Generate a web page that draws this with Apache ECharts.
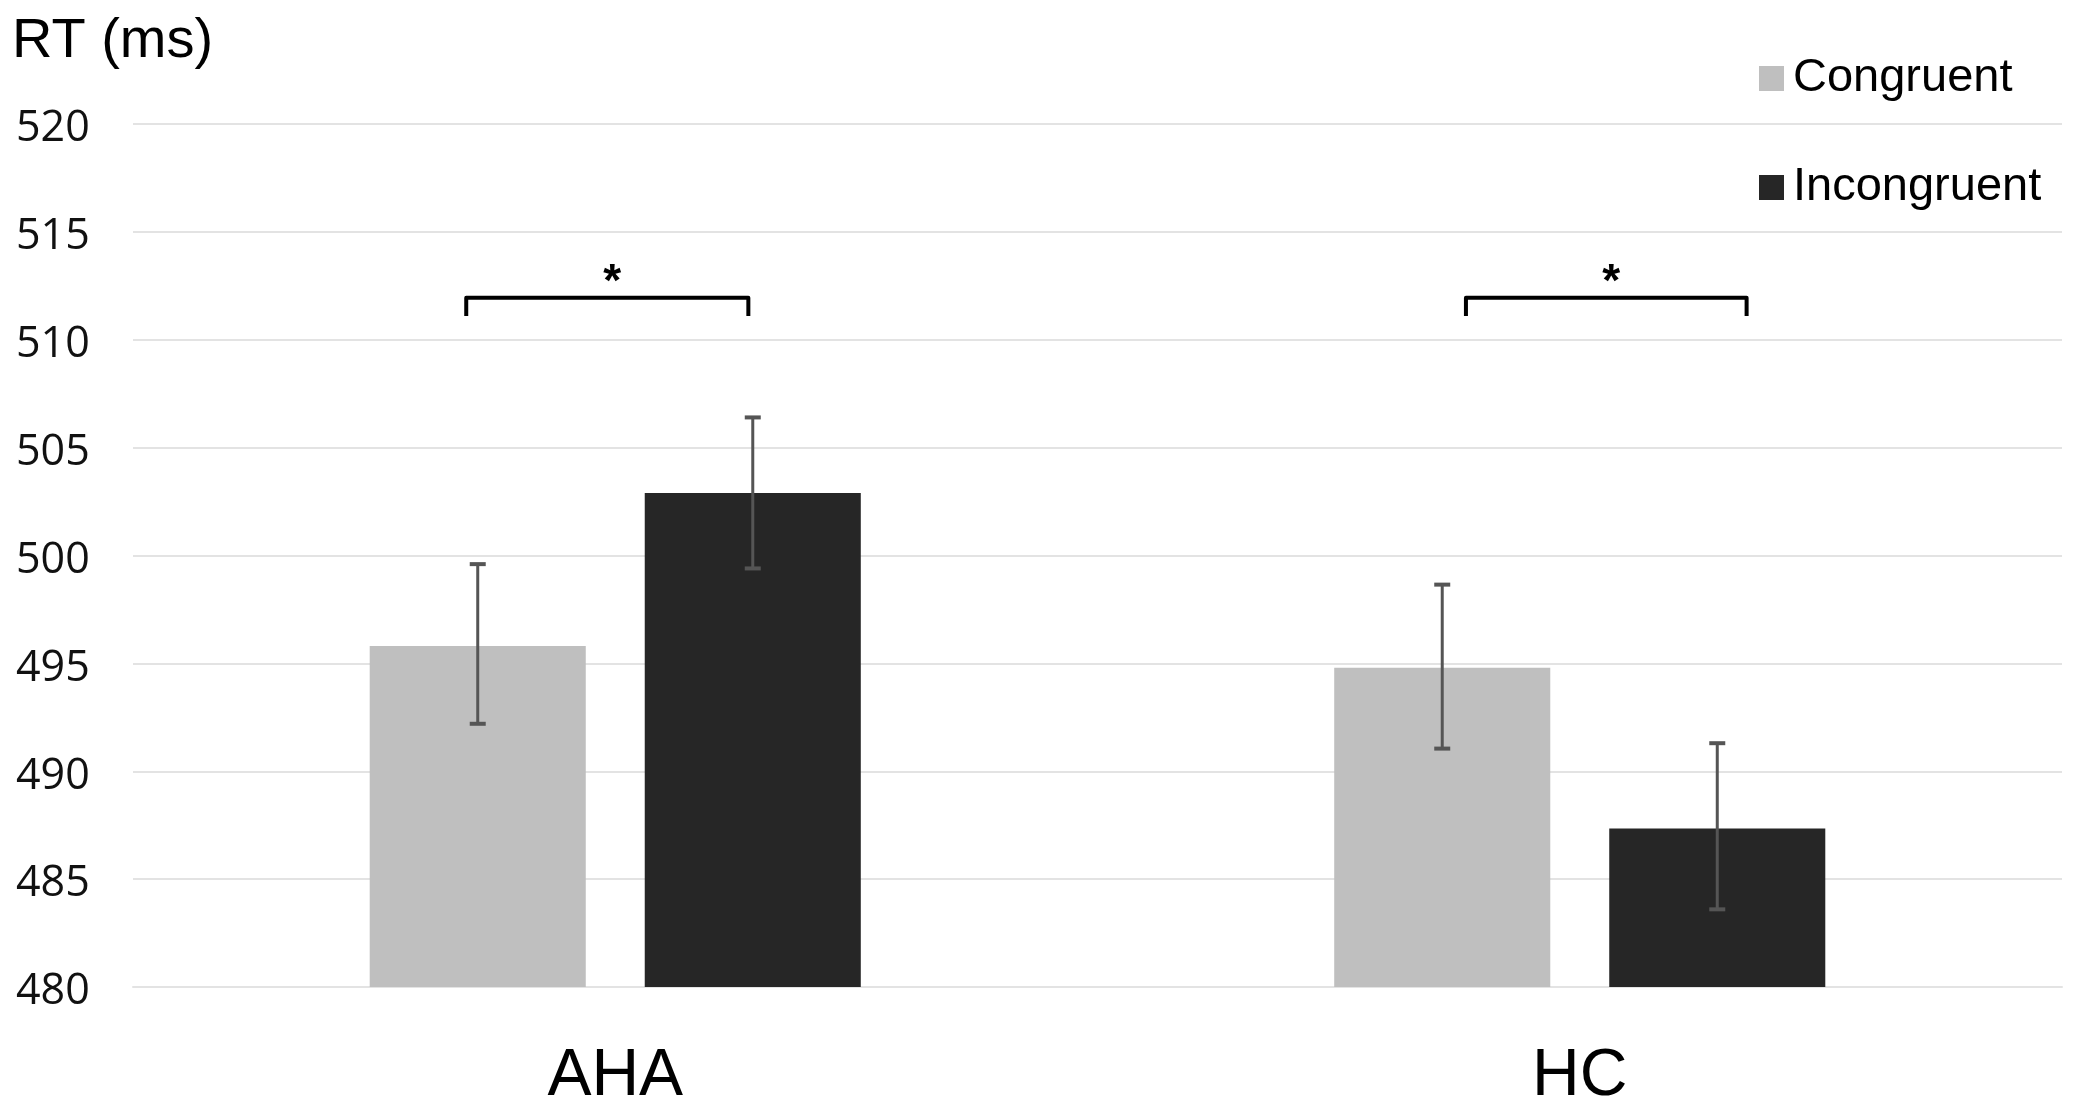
<!DOCTYPE html>
<html>
<head>
<meta charset="utf-8">
<script src="https://cdn.jsdelivr.net/npm/echarts@6/dist/echarts.min.js"></script>
<style>
	html, body { margin: 0; padding: 0; background: #fff; }
	#chart { width: 2079px; height: 1112px; }
</style>
</head>
<body>
<div id="chart"></div>
<script>
// 数据
var groups = ['AHA', 'HC'];
var seriesNames = ['Congruent', 'Incongruent'];
var congruent = [495.8, 494.8];
var incongruent = [502.9, 487.35];
var congruentErr = [[492.2, 499.6], [491.05, 498.65]];
var incongruentErr = [[499.4, 506.4], [483.6, 491.3]];
var yTicks = [480, 485, 490, 495, 500, 505, 510, 515, 520];
// significance brackets: [group, bracket level, tail end]
var brackets = [[0, 511.95, 511.1], [1, 511.95, 511.1]];

var barPct = 0.224;
var gapPct = 0.273;

var errData = [];
for (var i = 0; i < groups.length; i++) {
	errData.push([i, congruentErr[i][0], congruentErr[i][1], 0]);
	errData.push([i, incongruentErr[i][0], incongruentErr[i][1], 1]);
}

function renderErr(params, api) {
	var band = api.size([1, 0])[0];
	var off = band * barPct * (1 + gapPct) / 2;
	var dir = api.value(3) === 0 ? -1 : 1;
	var lo = api.coord([api.value(0), api.value(1)]);
	var hi = api.coord([api.value(0), api.value(2)]);
	var x = lo[0] + dir * off;
	var cap = 8;
	var st = { stroke: '#555', lineWidth: 3 };
	return {
		type: 'group',
		children: [
			{ type: 'line', shape: { x1: x, y1: lo[1], x2: x, y2: hi[1] }, style: st },
			{ type: 'line', shape: { x1: x - cap, y1: lo[1], x2: x + cap, y2: lo[1] }, style: { stroke: '#555', lineWidth: 4 } },
			{ type: 'line', shape: { x1: x - cap, y1: hi[1], x2: x + cap, y2: hi[1] }, style: { stroke: '#555', lineWidth: 4 } }
		]
	};
}

// bracket ends, as share of the band width (hand placed in the original)
var bracketEnds = [[-0.1545, 0.138], [-0.118, 0.173]];

function renderBracket(params, api) {
	var band = api.size([1, 0])[0];
	var idx = api.value(0);
	var top = api.coord([idx, api.value(1)]);
	var tail = api.coord([idx, api.value(2)]);
	var ends = bracketEnds[params.dataIndex];
	var x1 = top[0] + ends[0] * band;
	var x2 = top[0] + ends[1] * band;
	return {
		type: 'group',
		children: [
			{
				type: 'polyline',
				shape: { points: [[x1, tail[1]], [x1, top[1]], [x2, top[1]], [x2, tail[1]]] },
				style: { stroke: '#000', lineWidth: 4, fill: null, lineJoin: 'round' }
			},
			{
				type: 'text',
				style: {
					text: '*',
					x: (x1 + x2) / 2 + 5,
					y: top[1] + 9,
					align: 'center',
					verticalAlign: 'bottom',
					font: 'bold 46px "Liberation Sans"',
					fill: '#000'
				}
			}
		]
	};
}

var myChart = echarts.init(document.getElementById('chart'));
var option = {
	backgroundColor: '#fff',
	animation: false,
	title: {
		text: 'RT (ms)',
		left: 7,
		top: 9,
		textStyle: {
			fontFamily: 'Liberation Sans',
			fontSize: 56,
			fontWeight: 'normal',
			color: '#000'
		}
	},
	legend: {
		data: seriesNames,
		orient: 'vertical',
		left: 1754,
		top: 50,
		itemWidth: 25,
		itemHeight: 25,
		itemGap: 62,
		icon: 'rect',
		textStyle: {
			fontFamily: 'Liberation Sans',
			fontSize: 47,
			color: '#000',
			padding: [0, 0, 0, 4]
		}
	},
	grid: {
		left: 133,
		right: 17,
		top: 124,
		bottom: 125
	},
	xAxis: {
		type: 'category',
		data: groups,
		axisLine: { show: true, lineStyle: { color: '#e3e3e3', width: 2 } },
		axisTick: { show: false },
		axisLabel: {
			margin: 57,
			fontFamily: 'Liberation Sans',
			fontSize: 66,
			color: '#000'
		}
	},
	yAxis: {
		type: 'value',
		min: yTicks[0],
		max: yTicks[yTicks.length - 1],
		interval: 5,
		axisLine: { show: false },
		axisTick: { show: false },
		splitLine: { lineStyle: { color: '#e3e3e3', width: 2 } },
		axisLabel: {
			margin: 117,
			align: 'left',
			verticalAlign: 'top',
			lineHeight: 10,
			fontFamily: 'Open Sans',
			fontSize: 43,
			color: '#111'
		}
	},
	series: [{
		name: seriesNames[0],
		type: 'bar',
		data: congruent,
		barWidth: (barPct * 100) + '%',
		barGap: (gapPct * 100) + '%',
		itemStyle: { color: '#bfbfbf' }
	}, {
		name: seriesNames[1],
		type: 'bar',
		data: incongruent,
		barWidth: (barPct * 100) + '%',
		itemStyle: { color: '#262626' }
	}, {
		name: 'err',
		type: 'custom',
		renderItem: renderErr,
		data: errData,
		encode: { x: 0, y: [1, 2] },
		z: 10
	}, {
		name: 'sig',
		type: 'custom',
		renderItem: renderBracket,
		data: brackets,
		encode: { x: 0, y: [1, 2] },
		z: 10
	}]
};
myChart.setOption(option);
</script>
</body>
</html>
